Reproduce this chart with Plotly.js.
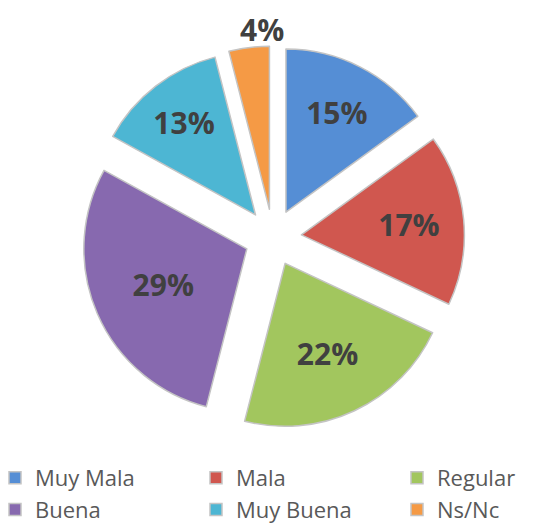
<!DOCTYPE html>
<html>
<head>
<meta charset="utf-8">
<script src="https://cdn.plot.ly/plotly-3.0.1.min.js"></script>
<style>
  html, body { margin: 0; padding: 0; background: #ffffff; overflow: hidden; }
  #wrap { width: 558px; height: 525px; overflow: hidden; position: relative; }
  #chart { width: 610px; height: 525px; position: absolute; left: -5px; top: 0; }
</style>
</head>
<body>
<div id="wrap"><div id="chart"></div></div>
<script>
// Data
const categories = ['Muy Mala', 'Mala', 'Regular', 'Buena', 'Muy Buena', 'Ns/Nc'];
const percentages = [15, 17, 22, 29, 13, 4];
const sliceColors = ['#558ED5', '#D0574F', '#A2C65E', '#8769AF', '#4DB6D3', '#F59A45'];
const insideLabel = [true, true, true, true, true, false];

// Layout geometry (styles/positions, not data)
const W = 610, H = 525, MB = 68;
const PULL = 0.175;
const dom = { x: [0.1418, 0.7697], y: [0.06127, 0.89934] };
const labelFont = { family: 'Open Sans, sans-serif', size: 30, color: '#404040', weight: 'bold' };

const trace = {
  type: 'pie',
  labels: categories,
  values: percentages,
  sort: false,
  direction: 'clockwise',
  rotation: 0,
  pull: categories.map(() => PULL),
  marker: { colors: sliceColors, line: { color: '#c4c4c4', width: 1.5 } },
  textinfo: 'percent',
  textposition: insideLabel.map(v => v ? 'inside' : 'none'),
  insidetextorientation: 'horizontal',
  textfont: labelFont,
  hoverinfo: 'none',
  domain: dom
};

// Outside label(s) for small slices, placed along the slice's mid angle
const total = percentages.reduce((a, b) => a + b, 0);
const plotW = W, plotH = H - MB;
const boxR = Math.min((dom.x[1] - dom.x[0]) * plotW, (dom.y[1] - dom.y[0]) * plotH) / 2;
const cxp = (dom.x[0] + dom.x[1]) / 2, cyp = (dom.y[0] + dom.y[1]) / 2;
const annotations = [];
let cum = 0;
percentages.forEach((v, i) => {
  const mid = (cum + v / 2) / total * 2 * Math.PI;
  cum += v;
  if (insideLabel[i]) return;
  const D = boxR + 18;
  annotations.push({
    xref: 'paper', yref: 'paper',
    x: cxp + D * Math.sin(mid) / plotW,
    y: cyp + D * Math.cos(mid) / plotH,
    xanchor: 'center', yanchor: 'middle', xshift: 15,
    text: Math.round(v / total * 100) + '%',
    showarrow: false,
    font: labelFont
  });
});

const layout = {
  width: W,
  height: H,
  margin: { l: 0, r: 0, t: 0, b: MB },
  paper_bgcolor: '#ffffff',
  plot_bgcolor: '#ffffff',
  showlegend: true,
  annotations: annotations,
  legend: {
    orientation: 'h',
    xref: 'paper', x: 0, xanchor: 'left',
    yref: 'container', y: MB / H, yanchor: 'top',
    entrywidth: 156,
    entrywidthmode: 'pixels',
    traceorder: 'normal',
    font: { family: 'Open Sans, sans-serif', size: 22, color: '#595959' }
  }
};

Plotly.newPlot('chart', [trace], layout, { displayModeBar: false, staticPlot: true });
</script>
</body>
</html>
